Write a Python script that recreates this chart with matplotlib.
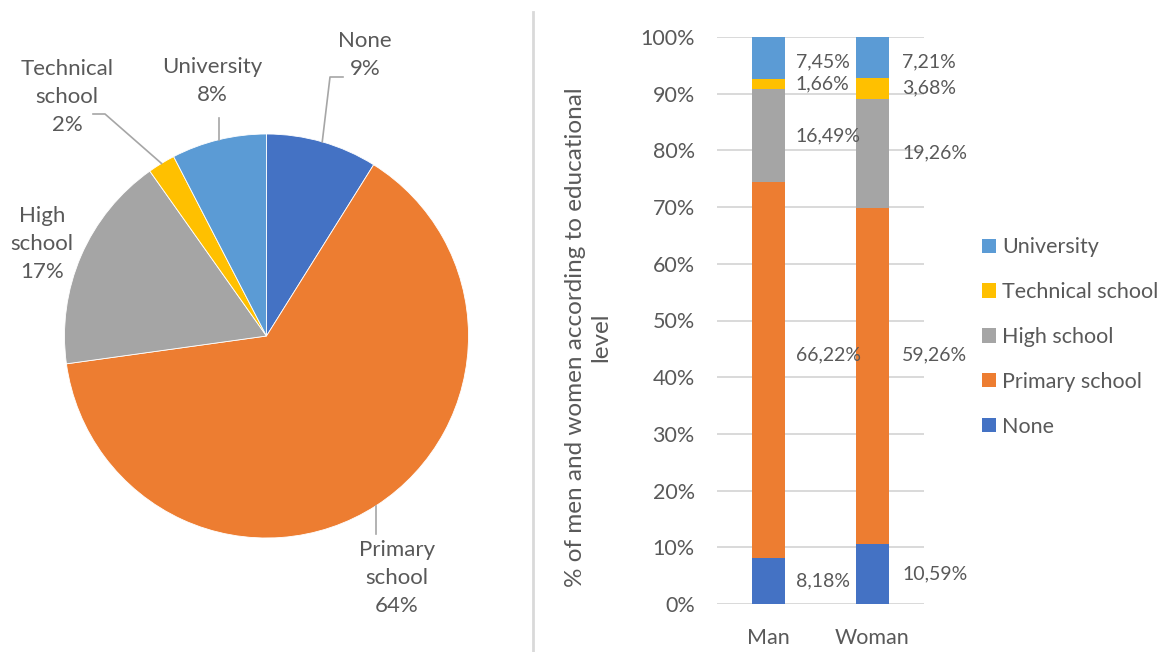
import matplotlib
matplotlib.use("Agg")
import matplotlib.pyplot as plt
import numpy as np
from matplotlib.lines import Line2D
from matplotlib.patches import Patch

# ---------------- data ----------------
levels = ["None", "Primary school", "High school", "Technical school", "University"]
pie_shares = [8.9, 63.9, 17.4, 2.2, 7.6]
pie_label_names = ["None", "Primary\nschool", "High\nschool", "Technical\nschool", "University"]

groups = ["Man", "Woman"]
man_values = [8.18, 66.22, 16.49, 1.66, 7.45]
woman_values = [10.59, 59.26, 19.26, 3.68, 7.21]
yticks_pct = [0, 10, 20, 30, 40, 50, 60, 70, 80, 90, 100]

colors = ["#4472C4", "#ED7D31", "#A5A5A5", "#FFC000", "#5B9BD5"]
TXT = "#595959"
FONT = "Lato"

plt.rcParams["font.family"] = [FONT, "DejaVu Sans"]

W, H = 1165, 652
fig = plt.figure(figsize=(W / 100, H / 100), dpi=100)

def fx(px):
    return px / W

def fy(py):
    return 1 - py / H

# ---------------- pie ----------------
cx, cy, r = 266.5, 336, 202
axp = fig.add_axes([fx(cx - r), fy(cy + r), 2 * r / W, 2 * r / H])
wedges, _ = axp.pie(pie_shares, colors=colors, startangle=90, counterclock=False,
                    radius=1, wedgeprops=dict(edgecolor="white", linewidth=0.6))
axp.set_xlim(-1, 1)
axp.set_ylim(-1, 1)
axp.set_aspect("auto")
axp.axis("off")

def p2d(px, py):
    return (px - cx) / r, (cy - py) / r

def edge_point(w):
    ang = np.deg2rad((w.theta1 + w.theta2) / 2)
    return np.cos(ang), np.sin(ang)

pie_fs = 16
label_px = {
    0: (365, 55),
    4: (212, 81),
    3: (67, 97),
    2: (42, 244),
    1: (397, 578),
}
for i, (name, share) in enumerate(zip(pie_label_names, pie_shares)):
    lx, ly = p2d(*label_px[i])
    axp.text(lx, ly, f"{name}\n{share:.0f}%", ha="center", va="center",
             fontsize=pie_fs, color=TXT, linespacing=1.5)

lc = "#A6A6A6"
# None leader
ex, ey = edge_point(wedges[0])
b = p2d(330, 77); e = p2d(343, 77)
axp.plot([ex, b[0], e[0]], [ey, b[1], e[1]], color=lc, lw=1.2, clip_on=False)
# University leader
ex, ey = edge_point(wedges[4])
axp.plot([ex, ex], [ey, p2d(0, 118)[1]], color=lc, lw=1.2, clip_on=False)
# Technical leader
ex, ey = edge_point(wedges[3])
b = p2d(105, 114); e = p2d(93, 114)
axp.plot([ex, b[0], e[0]], [ey, b[1], e[1]], color=lc, lw=1.2, clip_on=False)
# Primary leader
ex, ey = edge_point(wedges[1])
axp.plot([ex, ex], [ey, p2d(0, 534)[1]], color=lc, lw=1.2, clip_on=False)

# ---------------- divider ----------------
fig.add_artist(Line2D([fx(533), fx(533)], [fy(12), fy(652)], color="#D9D9D9", lw=2))

# ---------------- stacked bars ----------------
axb = fig.add_axes([fx(717), fy(604), 207 / W, 567 / H])
x = np.arange(len(groups))
bw = 0.32
data = np.array([man_values, woman_values])
label_dx = [7.5, 9.5]           # points right of bar edge, per group
label_dy = {1: [11, 15], 4: [-3, -3]}  # vertical nudges (points) per level
bottoms = np.zeros(len(groups))
for j, lev in enumerate(levels):
    vals = data[:, j]
    axb.bar(x, vals, bw, bottom=bottoms, color=colors[j], label=lev, zorder=2)
    for k in range(len(groups)):
        mid = bottoms[k] + vals[k] / 2
        dy = label_dy.get(j, [0, 0])[k]
        axb.annotate(f"{vals[k]:.2f}%".replace(".", ","), xy=(x[k] + bw / 2, mid),
                     xytext=(label_dx[k], dy), textcoords="offset points",
                     ha="left", va="center", fontsize=14, color=TXT)
    bottoms += vals

axb.set_xlim(-0.5, 1.5)
axb.set_ylim(0, 100)
axb.set_yticks(yticks_pct)
axb.set_yticklabels([f"{v}%" for v in yticks_pct])
axb.set_xticks(x)
axb.set_xticklabels(groups)
axb.tick_params(axis="both", length=0, labelsize=15.5, colors=TXT)
axb.tick_params(axis="y", pad=16)
axb.tick_params(axis="x", pad=17)
for s in axb.spines.values():
    s.set_visible(False)
axb.grid(axis="y", color="#D9D9D9", lw=1.4, zorder=0)
axb.set_axisbelow(True)

fig.text(fx(588), fy(337), "% of men and women according to educational\nlevel",
         rotation=90, ha="center", va="center", multialignment="center",
         fontsize=17.5, color=TXT, linespacing=1.27)

handles = [Patch(facecolor=colors[j]) for j in range(len(levels))][::-1]
leg = fig.legend(handles, levels[::-1], loc="center left",
                 bbox_to_anchor=(fx(982), fy(337)), frameon=False,
                 fontsize=15.5, labelcolor=TXT, handlelength=0.65, handleheight=0.65,
                 handletextpad=0.3, labelspacing=1.15, borderaxespad=0, borderpad=0)

fig.savefig("out.png", dpi=100)
